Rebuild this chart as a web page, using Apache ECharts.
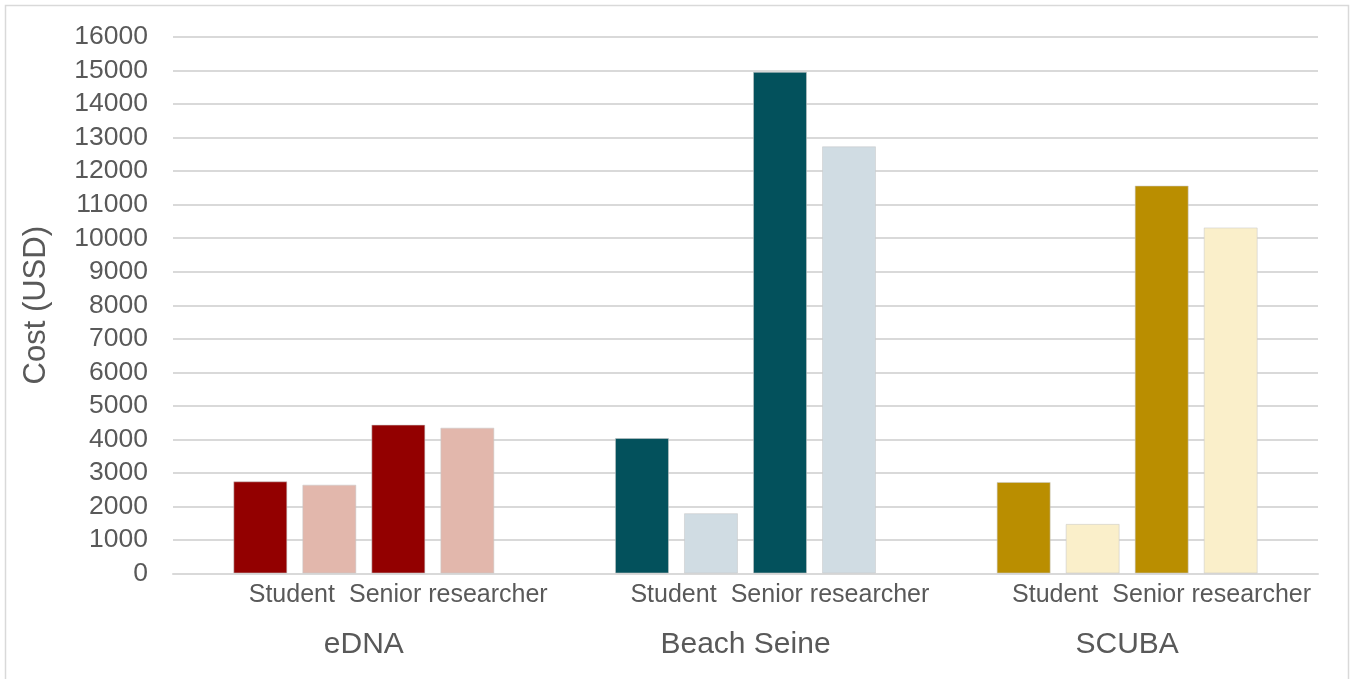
<!DOCTYPE html>
<html>
<head>
<meta charset="utf-8">
<title>Cost (USD)</title>
<script src="https://cdn.jsdelivr.net/npm/echarts@6/dist/echarts.min.js"></script>
<style>
  html, body { margin: 0; padding: 0; background: #ffffff; }
  #chart { width: 1354px; height: 679px; }
</style>
</head>
<body>
<div id="chart"></div>
<script>
// Survey methods and the two staff roles shown under each method
const methods = ['eDNA', 'Beach Seine', 'SCUBA'];
const roles = ['Student', 'Senior researcher'];

// Cost per method (USD): dark and light bar for each role
const studentDark = [2750, 4040, 2730];
const studentLight = [2650, 1800, 1480];
const seniorDark = [4440, 14960, 11570];
const seniorLight = [4350, 12740, 10320];

// Value axis range
const yMin = 0;
const yMax = 16000;
const yStep = 1000;

// Palette per method
const darkColors = ['#930000', '#03515C', '#BA8E00'];
const lightColors = ['#E2B7AC', '#D0DCE3', '#FAEFCA'];

const textColor = '#595959';
const fontFamily = '"Liberation Sans", Arial, Helvetica, sans-serif';

function coloured(values, palette) {
  return values.map((v, i) => ({ value: v, itemStyle: { color: palette[i] } }));
}

function barSeries(name, values, palette) {
  return {
    name: name,
    type: 'bar',
    barWidth: 54,
    barGap: '27.8%',
    data: coloured(values, palette),
    itemStyle: { borderColor: 'rgba(200,200,200,0.55)', borderWidth: 1 },
    emphasis: { disabled: true }
  };
}

const chart = echarts.init(document.getElementById('chart'), null, { renderer: 'canvas' });

chart.setOption({
  animation: false,
  backgroundColor: '#ffffff',
  textStyle: { fontFamily: fontFamily, color: textColor },
  graphic: [{
    type: 'rect',
    z: -10,
    shape: { x: 5.5, y: 5.5, width: 1343, height: 690 },
    style: { fill: 'none', stroke: '#d9d9d9', lineWidth: 1.5 }
  }],
  grid: { left: 173, right: 36, top: 37, bottom: 105.5 },
  xAxis: {
    type: 'category',
    data: methods,
    axisLine: { show: true, lineStyle: { color: '#d9d9d9', width: 2 } },
    axisTick: { show: false },
    axisLabel: {
      interval: 0,
      margin: 2,
      color: textColor,
      fontFamily: fontFamily,
      formatter: function (name) {
        return '{pad| }{stu|' + roles[0] + '}{sen|' + roles[1] + '}\n{grp|' + name + '}';
      },
      rich: {
        pad: { width: 69, align: 'center', fontSize: 25, lineHeight: 40 },
        stu: { width: 100, align: 'center', fontSize: 25, lineHeight: 40, color: textColor, fontFamily: fontFamily },
        sen: { width: 213, align: 'center', fontSize: 25, lineHeight: 40, color: textColor, fontFamily: fontFamily },
        grp: { align: 'center', fontSize: 30, lineHeight: 58, color: textColor, fontFamily: fontFamily }
      }
    }
  },
  yAxis: {
    type: 'value',
    min: yMin,
    max: yMax,
    interval: yStep,
    name: 'Cost (USD)',
    nameLocation: 'middle',
    nameGap: 121,
    nameTextStyle: { fontSize: 31, color: textColor, fontFamily: fontFamily },
    axisLine: { show: false },
    axisTick: { show: false },
    axisLabel: {
      fontSize: 26.5,
      margin: 25,
      color: textColor,
      fontFamily: fontFamily,
      formatter: function (v) { return String(v); }
    },
    splitLine: { lineStyle: { color: '#d9d9d9', width: 2 } }
  },
  series: [
    barSeries('Student (dark)', studentDark, darkColors),
    barSeries('Student (light)', studentLight, lightColors),
    barSeries('Senior researcher (dark)', seniorDark, darkColors),
    barSeries('Senior researcher (light)', seniorLight, lightColors)
  ]
});
</script>
</body>
</html>
